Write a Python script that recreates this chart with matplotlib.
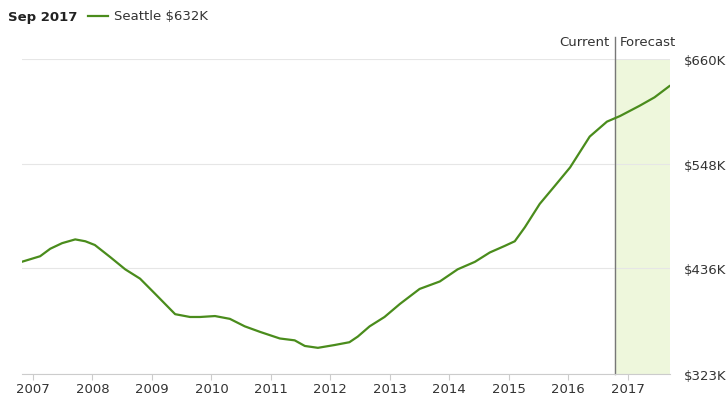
import matplotlib.pyplot as plt

# fractional years and home value ($K)
years = [2006.81, 2007.12, 2007.29, 2007.49, 2007.71, 2007.88, 2008.04, 2008.30, 2008.55,
         2008.80, 2009.05, 2009.39, 2009.64, 2009.81, 2010.06, 2010.31, 2010.56, 2010.82,
         2011.15, 2011.40, 2011.57, 2011.79, 2012.07, 2012.32, 2012.46, 2012.66, 2012.91,
         2013.17, 2013.50, 2013.84, 2014.14, 2014.43, 2014.68, 2014.93, 2015.10, 2015.27,
         2015.52, 2015.77, 2016.03, 2016.36, 2016.65, 2016.87, 2017.20, 2017.45, 2017.70]
values = [443, 449, 457, 463, 467, 465, 461, 448, 435, 425, 409, 387, 384, 384, 385, 382,
          374, 368, 361, 359, 353, 351, 354, 357, 363, 374, 384, 398, 414, 422, 435, 443,
          453, 460, 465, 480, 505, 524, 544, 577, 593, 599, 610, 619, 631]
tick_years = list(range(2007, 2018))
y_ticks = [323, 436, 548, 660]
current = 2016.78

fig = plt.figure(figsize=(7.28, 4.06), dpi=100)
ax = fig.add_axes([22/728, 31/406, 648/728, 315/406])
x0, x1 = 2006.815, 2017.71
ax.set_xlim(x0, x1)
ax.set_ylim(323, 660)

ax.axvspan(current, x1, color="#eef7dc", zorder=0)
for v in y_ticks:
    ax.axhline(v, color="#e6e6e6", lw=0.8, zorder=1)
ax.plot(years, values, color="#4a8c1c", lw=1.6, zorder=3)
ax.axvline(current, color="#777777", lw=1, zorder=2, ymax=1.07, clip_on=False)

ax.yaxis.tick_right()
ax.set_yticks(y_ticks)
ax.set_yticklabels([f"${v}K" for v in y_ticks], fontsize=9.5, color="#333333")
ax.tick_params(axis="y", length=0, pad=10)
ax.set_xticks(tick_years)
ax.set_xticklabels([str(y) for y in tick_years], fontsize=9.5, color="#333333")
ax.tick_params(axis="x", length=4, color="#cccccc", pad=2)
for s in ["top", "right", "left"]:
    ax.spines[s].set_visible(False)
ax.spines["bottom"].set_color("#cccccc")

ax.text(current - 0.08, 1.035, "Current", transform=ax.get_xaxis_transform(),
        ha="right", va="bottom", fontsize=9.5, color="#333333")
ax.text(current + 0.08, 1.035, "Forecast", transform=ax.get_xaxis_transform(),
        ha="left", va="bottom", fontsize=9.5, color="#333333")

fig.text(8/728, 1 - 17/406, "Sep 2017", fontsize=9.5, fontweight="bold", va="center", color="#222222")
fig.add_artist(plt.Line2D([88/728, 108/728], [1 - 17/406] * 2, color="#4a8c1c", lw=1.6))
fig.text(114/728, 1 - 17/406, "Seattle $632K", fontsize=9.5, va="center", color="#333333")

fig.savefig("out.png", dpi=100)
